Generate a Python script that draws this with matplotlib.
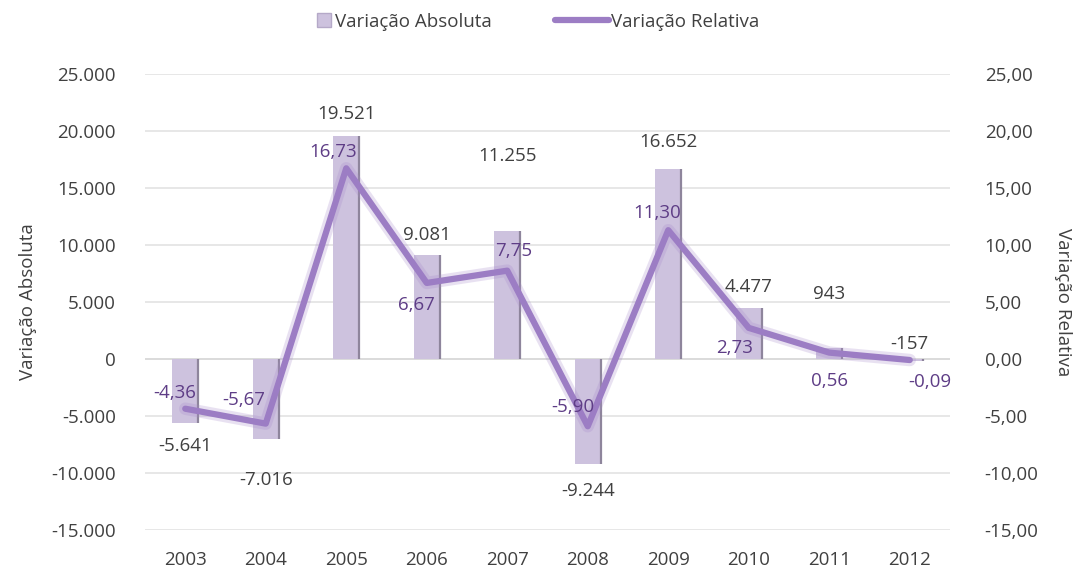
import numpy as np
import matplotlib
matplotlib.use("Agg")
import matplotlib.pyplot as plt
from matplotlib.lines import Line2D

plt.rcParams['font.family'] = ['Open Sans', 'DejaVu Sans']

years = ["2003", "2004", "2005", "2006", "2007", "2008", "2009", "2010", "2011", "2012"]
abs_var = [-5641, -7016, 19521, 9081, 11255, -9244, 16652, 4477, 943, -157]
rel_var = [-4.36, -5.67, 16.73, 6.67, 7.75, -5.90, 11.30, 2.73, 0.56, -0.09]

# label offsets in pixels (dx, dy)
abs_off = [(0, -23), (0, -41), (0, 22), (0, 20), (0, 75), (0, -27), (0, 27), (0, 21), (0, 54), (0, 17)]
rel_off = [(-11, 16), (-22, 24), (-13, 16), (-10, -22), (6, 20), (-15, 19), (-11, 17), (-14, -20), (0, -28), (20, -22)]

def fmt_abs(v):
    return f"{v:,}".replace(",", ".")

def fmt_rel(v):
    return f"{v:.2f}".replace(".", ",")

fig = plt.figure(figsize=(10.75, 5.69), dpi=100)
ax = fig.add_axes([145/1075, 1 - 530/569, 805/1075, (530 - 74)/569])
ax2 = ax.twinx()

x = np.arange(len(years))
w = 0.32
ax.bar(x, abs_var, width=w, color="#cdc2de", zorder=2)
ax.vlines(x + w/2, 0, abs_var, color="#8e859c", lw=1.6, zorder=2)

ax.set_ylim(-15000, 25000)
ax.set_xlim(-0.5, len(years) - 0.5)
ax.set_yticks(np.arange(-15000, 25001, 5000))
ax.set_yticklabels([fmt_abs(v) for v in range(-15000, 25001, 5000)])
ax.set_xticks(x)
ax.set_xticklabels(years)
ax.grid(axis="y", color="#e3e3e3", lw=1.2, zorder=0)
ax.axhline(0, color="#a6a6a6", lw=1.2, zorder=1)
for s in ax.spines.values():
    s.set_visible(False)
for s in ax2.spines.values():
    s.set_visible(False)
ax.tick_params(axis="y", length=0, labelsize=13.5, colors="#404040", pad=21)
ax.tick_params(axis="x", length=0, labelsize=13.5, colors="#404040", pad=15)
ax.set_ylabel("Variação Absoluta", fontsize=13.5, color="#404040", labelpad=10)

ax2.set_ylim(-15, 25)
ax2.set_yticks(np.arange(-15, 26, 5))
ax2.set_yticklabels([fmt_rel(v) for v in range(-15, 26, 5)])
ax2.tick_params(length=0, labelsize=13.5, colors="#404040", pad=25)
ax2.set_ylabel("Variação Relativa", fontsize=13.5, color="#404040", rotation=-90, labelpad=24)

ax2.plot(x, rel_var, color="#a78acb", lw=9, alpha=0.25, solid_capstyle="round", solid_joinstyle="round", zorder=3)
ax2.plot(x, rel_var, color="#9c7dc4", lw=4.5, solid_capstyle="round", solid_joinstyle="round", zorder=4)

for i in range(len(years)):
    ax.annotate(fmt_abs(abs_var[i]), (x[i], abs_var[i]), xytext=abs_off[i], textcoords="offset pixels",
                ha="center", va="center", fontsize=13.5, color="#404040", zorder=5)
    ax2.annotate(fmt_rel(rel_var[i]), (x[i], rel_var[i]), xytext=rel_off[i], textcoords="offset pixels",
                 ha="center", va="center", fontsize=13.5, color="#5e3d86", zorder=6)

sq = Line2D([0], [0], ls="none", marker="s", markersize=10, markerfacecolor="#cdc2de", markeredgecolor="#b5a9c8")
ln = Line2D([0], [0], color="#9c7dc4", lw=4.5, solid_capstyle="round")
leg1 = fig.legend([sq], ["Variação Absoluta"], loc="center", bbox_to_anchor=(404/1075, 1 - 22/569),
                  frameon=False, fontsize=13.5, handlelength=0.8, handletextpad=0.2, labelcolor="#404040")
leg2 = fig.legend([ln], ["Variação Relativa"], loc="center", bbox_to_anchor=(657/1075, 1 - 22/569),
                  frameon=False, fontsize=13.5, handlelength=2.9, handletextpad=0.1, labelcolor="#404040")

fig.savefig("out.png", dpi=100)
